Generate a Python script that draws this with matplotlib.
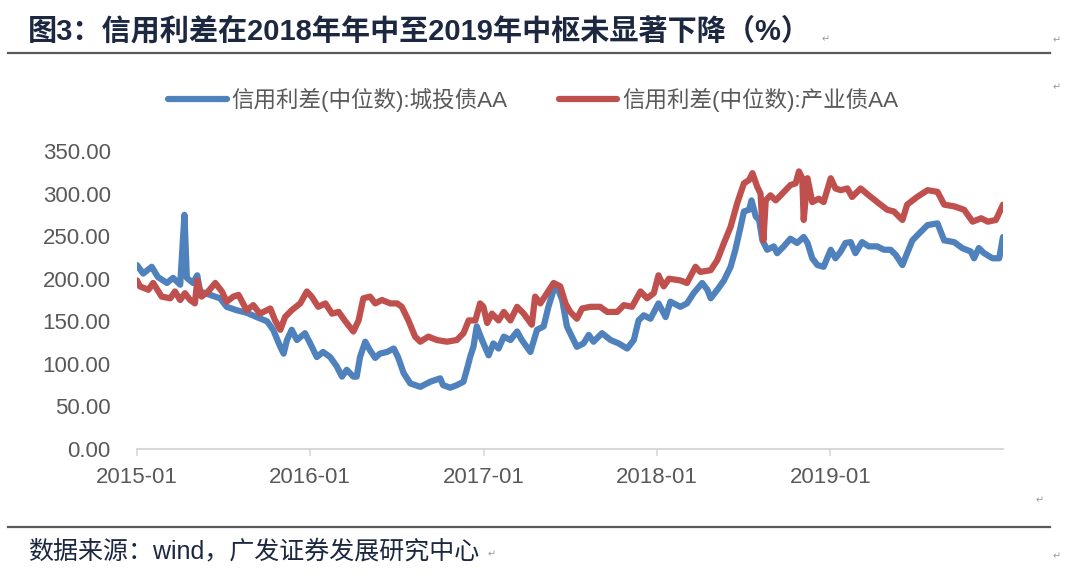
import matplotlib
matplotlib.use("Agg")
import matplotlib.pyplot as plt
from matplotlib.lines import Line2D
import pandas as pd

# ---------------- data ----------------
series_names = ["信用利差(中位数):城投债AA", "信用利差(中位数):产业债AA"]

ct_dates = [
    "2015-01-01", "2015-01-14", "2015-02-01", "2015-02-14", "2015-03-05", "2015-03-18",
    "2015-04-02", "2015-04-11", "2015-04-16", "2015-04-29", "2015-05-08", "2015-05-14",
    "2015-06-04", "2015-06-25", "2015-07-09", "2015-07-30", "2015-08-20", "2015-09-10",
    "2015-10-02", "2015-10-15", "2015-10-30", "2015-11-06", "2015-11-13", "2015-11-23",
    "2015-12-04", "2015-12-21", "2016-01-01", "2016-01-15", "2016-01-28", "2016-02-12",
    "2016-02-26", "2016-03-08", "2016-03-18", "2016-04-01", "2016-04-08", "2016-04-15",
    "2016-04-26", "2016-05-06", "2016-05-17", "2016-05-27", "2016-06-11", "2016-06-25",
    "2016-07-04", "2016-07-16", "2016-07-30", "2016-08-20", "2016-09-10", "2016-10-01",
    "2016-10-07", "2016-10-22", "2016-11-05", "2016-11-19", "2016-11-26", "2016-12-03",
    "2016-12-10", "2016-12-17", "2016-12-28", "2017-01-11", "2017-01-21", "2017-02-01",
    "2017-02-12", "2017-02-26", "2017-03-12", "2017-03-22", "2017-04-09", "2017-04-23",
    "2017-05-07", "2017-05-17", "2017-05-28", "2017-06-04", "2017-06-15", "2017-06-25",
    "2017-07-09", "2017-07-16", "2017-07-30", "2017-08-10", "2017-08-20", "2017-09-07",
    "2017-09-25", "2017-10-12", "2017-10-30", "2017-11-13", "2017-11-23", "2017-12-04",
    "2017-12-18", "2018-01-04", "2018-01-19", "2018-01-29", "2018-02-19", "2018-03-05",
    "2018-03-19", "2018-04-06", "2018-04-17", "2018-04-24", "2018-05-08", "2018-05-22",
    "2018-06-05", "2018-06-15", "2018-06-26", "2018-07-03", "2018-07-14", "2018-07-19",
    "2018-07-28", "2018-08-04", "2018-08-11", "2018-08-21", "2018-09-04", "2018-09-11",
    "2018-09-25", "2018-10-09", "2018-10-23", "2018-11-06", "2018-11-14", "2018-11-24",
    "2018-12-05", "2018-12-18", "2019-01-02", "2019-01-12", "2019-01-23", "2019-02-02",
    "2019-02-13", "2019-02-23", "2019-03-09", "2019-03-23", "2019-04-10", "2019-04-24",
    "2019-05-08", "2019-05-19", "2019-06-02", "2019-06-12", "2019-06-23", "2019-07-07",
    "2019-07-25", "2019-08-15", "2019-08-29", "2019-09-19", "2019-10-06", "2019-10-24",
    "2019-10-31", "2019-11-10", "2019-11-21", "2019-12-09", "2019-12-23", "2019-12-31",
]
ct_values = [
    216, 206, 214, 202, 195, 201,
    193, 275, 201, 195, 204, 185,
    181, 177, 167, 163, 160, 155,
    150, 140, 120, 112, 128, 140,
    128, 136, 124, 108, 114, 108,
    97, 85, 93, 85, 85, 108,
    126, 116, 107, 112, 114, 118,
    108, 89, 77, 73, 79, 83,
    75, 72, 75, 79, 93, 108,
    120, 144, 128, 110, 124, 118,
    132, 128, 138, 128, 114, 140,
    144, 167, 187, 191, 175, 144,
    128, 120, 124, 134, 126, 136,
    128, 124, 118, 128, 151, 157,
    153, 171, 155, 173, 167, 171,
    183, 195, 187, 177, 187, 198,
    214, 234, 261, 279, 281, 292,
    273, 269, 245, 234, 238, 230,
    238, 247, 242, 249, 242, 224,
    216, 214, 234, 224, 232, 242,
    243, 230, 243, 238, 238, 234,
    234, 228, 216, 230, 245, 253,
    263, 265, 245, 243, 236, 232,
    224, 236, 230, 224, 224, 249,
]

cy_dates = [
    "2015-01-01", "2015-01-07", "2015-01-25", "2015-02-04", "2015-02-22", "2015-03-12",
    "2015-03-22", "2015-04-02", "2015-04-12", "2015-04-23", "2015-05-03", "2015-05-08",
    "2015-05-17", "2015-05-31", "2015-06-15", "2015-06-29", "2015-07-09", "2015-07-23",
    "2015-08-03", "2015-08-20", "2015-09-03", "2015-09-17", "2015-10-09", "2015-10-19",
    "2015-10-30", "2015-11-09", "2015-11-23", "2015-12-11", "2015-12-25", "2016-01-04",
    "2016-01-18", "2016-02-02", "2016-02-16", "2016-03-01", "2016-03-15", "2016-04-01",
    "2016-04-12", "2016-04-22", "2016-05-06", "2016-05-17", "2016-05-31", "2016-06-18",
    "2016-07-02", "2016-07-12", "2016-07-26", "2016-08-09", "2016-08-20", "2016-09-06",
    "2016-09-24", "2016-10-15", "2016-11-05", "2016-11-19", "2016-11-30", "2016-12-14",
    "2016-12-24", "2016-12-31", "2017-01-08", "2017-01-18", "2017-02-01", "2017-02-12",
    "2017-02-26", "2017-03-12", "2017-03-26", "2017-04-12", "2017-04-19", "2017-04-30",
    "2017-05-14", "2017-05-28", "2017-06-11", "2017-06-22", "2017-07-02", "2017-07-16",
    "2017-07-27", "2017-08-13", "2017-09-03", "2017-09-18", "2017-10-09", "2017-10-23",
    "2017-11-09", "2017-11-27", "2017-12-11", "2017-12-25", "2018-01-04", "2018-01-15",
    "2018-01-26", "2018-02-19", "2018-03-05", "2018-03-23", "2018-04-02", "2018-04-24",
    "2018-05-08", "2018-05-22", "2018-06-05", "2018-06-19", "2018-07-03", "2018-07-14",
    "2018-07-21", "2018-07-31", "2018-08-07", "2018-08-13", "2018-08-18", "2018-08-28",
    "2018-09-08", "2018-09-22", "2018-10-09", "2018-10-20", "2018-10-27", "2018-11-03",
    "2018-11-06", "2018-11-14", "2018-11-24", "2018-12-08", "2018-12-18", "2019-01-02",
    "2019-01-12", "2019-01-23", "2019-02-06", "2019-02-16", "2019-03-06", "2019-03-23",
    "2019-04-10", "2019-05-01", "2019-05-15", "2019-06-02", "2019-06-12", "2019-07-03",
    "2019-07-25", "2019-08-15", "2019-08-29", "2019-09-19", "2019-10-10", "2019-10-28",
    "2019-11-15", "2019-11-29", "2019-12-16", "2019-12-31",
]
cy_values = [
    198, 191, 187, 195, 179, 177,
    185, 175, 183, 175, 171, 198,
    179, 185, 195, 185, 173, 179,
    181, 163, 169, 159, 165, 151,
    140, 155, 163, 171, 185, 179,
    167, 171, 159, 161, 150, 138,
    151, 177, 179, 171, 175, 171,
    171, 167, 151, 132, 126, 132,
    128, 126, 128, 136, 151, 151,
    171, 167, 148, 159, 151, 161,
    151, 167, 159, 146, 179, 171,
    183, 195, 191, 171, 161, 153,
    165, 167, 167, 161, 161, 169,
    167, 185, 177, 183, 204, 191,
    200, 198, 195, 214, 208, 210,
    222, 242, 261, 289, 312, 316,
    324, 308, 300, 245, 292, 298,
    292, 300, 310, 312, 326, 318,
    269, 318, 290, 294, 290, 318,
    306, 304, 306, 296, 306, 298,
    290, 281, 279, 269, 287, 296,
    304, 302, 287, 285, 281, 267,
    271, 267, 269, 287,
]

y_ticks = [0, 50, 100, 150, 200, 250, 300, 350]
x_ticks = ["2015-01-01", "2016-01-01", "2017-01-01", "2018-01-01", "2019-01-01"]
x_tick_labels = ["2015-01", "2016-01", "2017-01", "2018-01", "2019-01"]

title = "图3：信用利差在2018年年中至2019年中枢未显著下降（%）"
source = "数据来源：wind，广发证券发展研究中心"

# ---------------- style ----------------
W, H = 1080, 584
BLUE = "#4f81bd"
RED = "#c0504d"
GREY_TXT = "#595959"
NAVY = "#1c2740"
FAM = ["Liberation Sans", "Noto Sans CJK SC", "DejaVu Sans"]
plt.rcParams["font.family"] = FAM

fig = plt.figure(figsize=(W / 100, H / 100), dpi=100)
fig.patch.set_facecolor("white")


def fx(px):
    return px / W


def fy(py):
    return 1 - py / H


ax = fig.add_axes([fx(137), fy(449), fx(1003) - fx(137), fy(151) - fy(449)])

l1, = ax.plot(pd.to_datetime(ct_dates), ct_values, color=BLUE, lw=4.5,
              solid_joinstyle="round", solid_capstyle="round", zorder=2)
l2, = ax.plot(pd.to_datetime(cy_dates), cy_values, color=RED, lw=4.5,
              solid_joinstyle="round", solid_capstyle="round", zorder=3)

ax.set_xlim(pd.Timestamp("2015-01-01"), pd.Timestamp("2019-12-31"))
ax.set_ylim(0, 350)
ax.set_yticks(y_ticks)
ax.set_yticklabels([f"{v:.2f}" for v in y_ticks])
ax.set_xticks(pd.to_datetime(x_ticks))
ax.set_xticklabels(x_tick_labels)

for s in ["left", "top", "right"]:
    ax.spines[s].set_visible(False)
ax.spines["bottom"].set_color("#d9d9d9")
ax.spines["bottom"].set_linewidth(1.5)
ax.tick_params(axis="y", length=0, pad=19, labelsize=16, labelcolor=GREY_TXT)
ax.tick_params(axis="x", length=5, width=1.2, color="#d9d9d9", pad=8,
               labelsize=16, labelcolor=GREY_TXT, direction="out")
ax.set_facecolor("white")

# legend
fig.legend([l1, l2], series_names, loc="center", bbox_to_anchor=(fx(533), fy(100)),
           ncol=2, frameon=False, fontsize=16.2, labelcolor=GREY_TXT,
           handlelength=2.6, handletextpad=0.2, columnspacing=2.3)

# title and rules
fig.text(fx(28), fy(31), title, fontsize=21, fontweight="bold", color=NAVY,
         ha="left", va="center", family=FAM)
fig.add_artist(Line2D([fx(8), fx(1050)], [fy(53), fy(53)], color="#5a5a5a", lw=1.6))
fig.add_artist(Line2D([fx(8), fx(1050)], [fy(527), fy(527)], color="#5a5a5a", lw=1.6))
fig.text(fx(28), fy(551), source, fontsize=18, color=NAVY, ha="left", va="center",
         family=FAM)

# paragraph marks
for (px, py) in [(826, 39), (1057, 40), (1057, 87), (1040, 500), (492, 554), (1057, 556)]:
    fig.text(fx(px), fy(py), "\u21b5", fontsize=7, color="#9a9a9a", ha="center",
             va="center", family=["DejaVu Sans"])

fig.savefig("out.png", dpi=100)
